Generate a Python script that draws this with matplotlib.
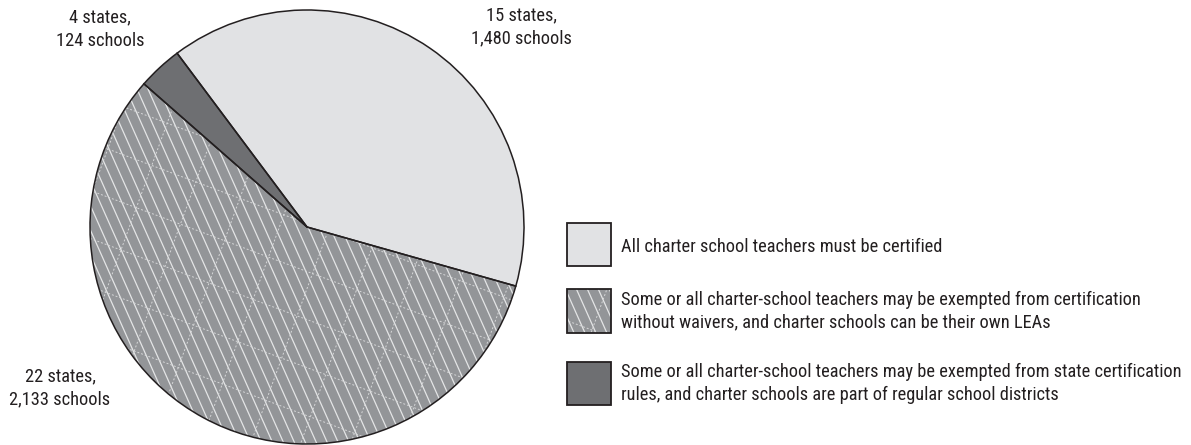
import numpy as np
import matplotlib
matplotlib.use("Agg")
import matplotlib.pyplot as plt
from matplotlib import font_manager
from matplotlib.patches import Rectangle, Wedge

# Certification policy groups, in legend order
categories = [
    "All charter school teachers must be certified",
    "Some or all charter-school teachers may be exempted from certification\n"
    "without waivers, and charter schools can be their own LEAs",
    "Some or all charter-school teachers may be exempted from state certification\n"
    "rules, and charter schools are part of regular school districts",
]
states = [15, 22, 4]
schools = [1480, 2133, 124]

W, H = 1191, 445
INK = "#231f20"
LIGHT, HATCH_BG, DARK = "#e1e2e4", "#939598", "#6e6f72"
FS = 13.2

avail = {f.name for f in font_manager.fontManager.ttflist}
FONT = next((f for f in ["Liberation Sans Narrow", "Roboto Condensed",
                         "Open Sans Condensed", "Liberation Sans"] if f in avail),
            "DejaVu Sans")
plt.rcParams["font.family"] = [FONT, "DejaVu Sans"]

fig = plt.figure(figsize=(W / 100, H / 100), dpi=100)
ax = fig.add_axes([0, 0, 1, 1])


def Y(y):
    # top-down pixel row -> data y
    return H - y


def hatch(clip, bounds):
    """Steep white stripes plus a faint dashed lattice, clipped to a patch."""
    x0, x1, y0, y1 = bounds
    diag = np.hypot(x1 - x0, y1 - y0)
    cx, cy = (x0 + x1) / 2, (y0 + y1) / 2
    families = [
        (-66.0, 10.0, dict(color="#e4e5e6", lw=0.9, ls="-")),
        (-20.5, 45.0, dict(color="#d6d7d8", lw=0.7, ls=(0, (2, 2)))),
        (70.0, 47.0, dict(color="#d6d7d8", lw=0.7, ls=(0, (2, 2)))),
    ]
    for ang, step, style in families:
        u = np.array([np.cos(np.radians(ang)), np.sin(np.radians(ang))])
        n = np.array([-u[1], u[0]])
        c = np.array([cx, cy])
        k0 = np.floor((c @ n - diag) / step)
        k1 = np.ceil((c @ n + diag) / step)
        for k in np.arange(k0, k1 + 1):
            base = n * (k * step) + u * (c @ u)
            p = np.array([base - u * diag, base + u * diag])
            ln, = ax.plot(p[:, 0], p[:, 1], zorder=2, solid_capstyle="butt", **style)
            ln.set_clip_path(clip)


# Pie: certified, part-of-district, own-LEA slices counterclockwise
center = (307, Y(227))
radius = 217
order = [0, 2, 1]
colors = {0: LIGHT, 1: HATCH_BG, 2: DARK}
wedges, _ = ax.pie([schools[i] for i in order],
                   colors=[colors[i] for i in order],
                   startangle=-15.8, counterclock=True,
                   center=center, radius=radius, frame=True,
                   wedgeprops=dict(edgecolor="none", linewidth=0, zorder=1))

hatched = wedges[order.index(1)]
hatch(hatched, (center[0] - radius, center[0] + radius,
                center[1] - radius, center[1] + radius))

for w in wedges:
    ax.add_patch(Wedge(w.center, w.r, w.theta1, w.theta2, fill=False,
                       edgecolor=INK, linewidth=1.1, zorder=3))

# Slice labels
label_pos = {0: (521, 15, 38), 2: (100, 17, 41), 1: (60, 376, 399)}
for i, (lx, ya, yb) in label_pos.items():
    ax.text(lx, Y(ya), f"{states[i]} states,", ha="center", va="center",
            fontsize=FS, color=INK)
    ax.text(lx, Y(yb), f"{schools[i]:,} schools", ha="center", va="center",
            fontsize=FS, color=INK)

# Legend
boxes = [(223, 266), (289, 333), (362, 405)]
face = [LIGHT, HATCH_BG, DARK]
for i, (top, bot) in enumerate(boxes):
    rect = Rectangle((567, Y(bot)), 44, bot - top, facecolor=face[i],
                     edgecolor="none", zorder=1)
    ax.add_patch(rect)
    if i == 1:
        hatch(rect, (567, 611, Y(bot), Y(top)))
    ax.add_patch(Rectangle((567, Y(bot)), 44, bot - top, fill=False,
                           edgecolor=INK, linewidth=1.3, zorder=3))
    yc = (top + bot) / 2 + (3 if i == 0 else 0)
    ax.text(621, Y(yc), categories[i], ha="left", va="center", fontsize=FS,
            color=INK, linespacing=1.3)

ax.set_xlim(0, W)
ax.set_ylim(0, H)
ax.set_aspect("equal")
ax.axis("off")

fig.savefig("out.png", dpi=100, facecolor="white")
